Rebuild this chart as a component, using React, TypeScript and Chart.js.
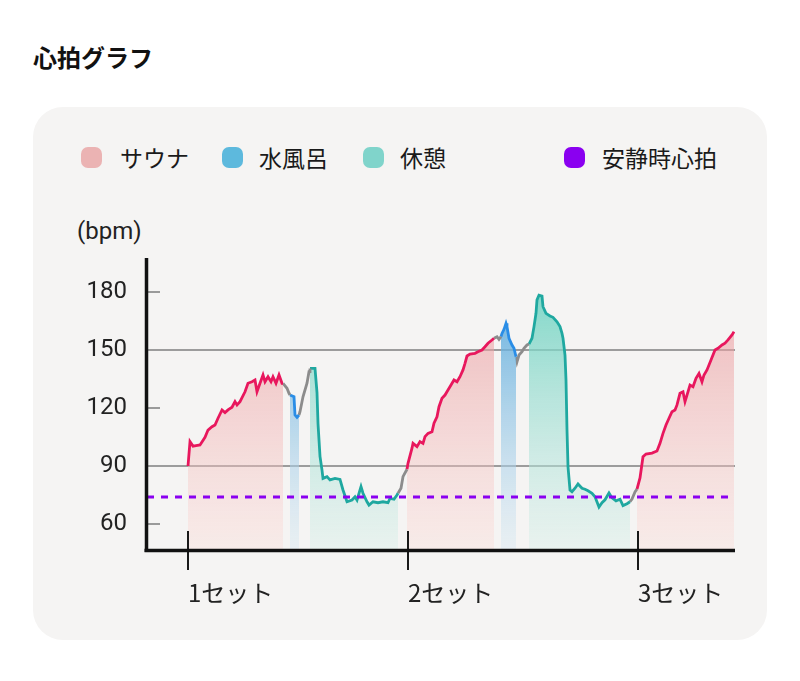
import React, { useEffect, useRef } from "react";
import { Chart, registerables } from "chart.js";

Chart.register(...registerables);

// ---- data: [minutes, bpm] ----
const sauna1: [number, number][] = [
  [0.0, 90.0], [0.2, 102.6], [0.5, 100.3], [0.8, 100.6], [1.2, 100.9], [1.7, 104.8], [2.0, 108.6],
  [2.4, 110.3], [2.7, 111.2], [3.0, 114.7], [3.4, 119.0], [3.7, 117.6], [4.0, 119.0], [4.4, 120.4],
  [4.7, 123.3], [4.9, 121.6], [5.2, 123.3], [5.7, 128.4], [6.0, 132.8], [6.4, 133.6], [6.7, 134.5],
  [6.9, 128.4], [7.2, 132.8], [7.5, 137.1], [7.7, 133.6], [8.0, 136.2], [8.3, 133.6], [8.5, 136.2],
  [8.8, 132.8], [9.1, 137.1], [9.4, 132.8], [9.5, 132.8],
];
const trans1a: [number, number][] = [[9.5, 132.8], [9.9, 130.2], [10.1, 127.6], [10.2, 126.7]];
const water1: [number, number][] = [[10.2, 126.7], [10.6, 125.8], [10.7, 116.4], [10.9, 115.2], [11.1, 116.4]];
const trans1b: [number, number][] = [[11.1, 116.4], [11.2, 118.1], [11.5, 125.8], [11.9, 132.8], [12.1, 138.8], [12.2, 140.5]];
const rest1: [number, number][] = [
  [12.2, 140.5], [12.7, 140.5], [12.9, 128.0], [13.0, 112.0], [13.2, 95.0], [13.4, 87.9], [13.5, 83.6],
  [13.9, 84.5], [14.2, 82.8], [14.7, 83.6], [15.2, 83.1], [15.5, 77.6], [15.9, 71.5], [16.4, 72.4],
  [16.7, 74.1], [16.9, 72.4], [17.3, 79.3], [17.5, 75.9], [17.9, 71.5], [18.1, 69.8], [18.5, 71.5],
  [19.0, 71.0], [19.5, 71.5], [20.0, 71.0], [20.2, 73.3], [20.6, 72.8], [20.9, 75.0], [21.0, 75.9],
];
const trans2a: [number, number][] = [[21.0, 75.9], [21.3, 78.5], [21.5, 84.5], [21.9, 88.3]];
const sauna2: [number, number][] = [
  [21.9, 88.3], [22.0, 91.4], [22.4, 99.2], [22.5, 101.7], [22.9, 100.0], [23.2, 102.6], [23.5, 101.7],
  [23.7, 105.2], [24.0, 106.9], [24.4, 107.7], [24.6, 112.1], [24.9, 115.5], [25.1, 120.7], [25.4, 125.0],
  [25.7, 126.7], [26.0, 129.3], [26.3, 131.9], [26.6, 134.5], [26.9, 133.6], [27.2, 136.2], [27.5, 139.7],
  [27.7, 143.1], [27.9, 146.9], [28.2, 147.9], [28.7, 148.3], [29.0, 149.1], [29.4, 150.0], [29.7, 151.7],
  [30.0, 153.5], [30.4, 155.2], [30.6, 156.1],
];
const trans2b: [number, number][] = [[30.6, 156.1], [30.9, 156.9], [31.1, 155.5], [31.3, 156.9]];
const water2: [number, number][] = [
  [31.3, 156.9], [31.4, 158.6], [31.6, 160.7], [31.8, 163.8], [31.9, 162.1], [32.1, 156.1], [32.4, 152.6],
  [32.6, 150.9], [32.8, 146.5],
];
const trans2c: [number, number][] = [[32.8, 146.5], [32.9, 143.9], [33.1, 147.4], [33.4, 149.1], [33.6, 150.9], [33.9, 152.6], [34.1, 153.1]];
const rest2: [number, number][] = [
  [34.1, 153.1], [34.4, 156.1], [34.6, 162.1], [34.8, 169.0], [34.9, 175.9], [35.1, 178.4], [35.4, 177.9],
  [35.5, 172.4], [35.8, 169.0], [36.2, 167.6], [36.5, 166.9], [36.9, 164.6], [37.2, 162.1], [37.4, 158.6],
  [37.5, 156.1], [37.7, 147.4], [37.8, 134.5], [37.9, 108.6], [38.0, 89.6], [38.2, 77.6], [38.4, 76.7],
  [38.7, 78.5], [39.0, 80.7], [39.4, 78.5], [39.7, 78.0], [40.0, 77.2], [40.4, 75.9], [40.7, 74.1],
  [41.1, 68.8], [41.4, 71.0], [41.7, 72.5], [42.1, 76.0], [42.4, 73.5], [42.8, 72.0], [43.2, 72.8],
  [43.5, 69.5], [43.9, 70.5], [44.2, 71.5],
];
const trans2d: [number, number][] = [[44.2, 71.5], [44.4, 72.9], [44.7, 76.6], [44.9, 78.1]];
const sauna3: [number, number][] = [
  [44.9, 78.1], [45.2, 83.8], [45.5, 94.8], [45.8, 96.2], [46.4, 96.7], [46.9, 97.8], [47.2, 101.7],
  [47.5, 106.9], [47.8, 111.2], [48.1, 114.7], [48.4, 118.1], [48.7, 119.0], [48.9, 121.6], [49.2, 127.6],
  [49.5, 128.4], [49.7, 123.3], [49.9, 126.7], [50.2, 131.9], [50.5, 131.0], [50.8, 135.4], [51.1, 137.9],
  [51.4, 133.6], [51.6, 137.1], [51.9, 139.7], [52.3, 144.8], [52.7, 150.0], [53.0, 150.9], [53.4, 152.6],
  [53.7, 153.5], [54.0, 155.2], [54.4, 157.8], [54.6, 159.5],
];

const restingBpm = 74;
const xRange: [number, number] = [-4.1, 54.7];
const yRange: [number, number] = [46.55, 197.6];
const yTicks = [60, 90, 120, 150, 180];
const yGridValues = [90, 150];
const yShortTicks = [60, 120, 180];
const setTicks = [0, 22, 45];
const setLabels = ["1セット", "2セット", "3セット"];
const legendItems = [
  { label: "サウナ", color: "#ebb3b3", x: 81, tx: 120 },
  { label: "水風呂", color: "#5db9dd", x: 222, tx: 259 },
  { label: "休憩", color: "#80d4cb", x: 363, tx: 400 },
  { label: "安静時心拍", color: "#8a00f0", x: 564, tx: 602 },
];

const FONT = "Roboto, 'Noto Sans CJK JP', sans-serif";
const JP = "'Noto Sans CJK JP', Roboto, sans-serif";

const SAUNA = "#e8175d";
const WATER = "#2a8de6";
const REST = "#1fa8a0";
const GRAY = "#8c8c8c";

function gradient(top: string, bottom: string) {
  return (ctx: any) => {
    const chart = ctx.chart;
    const a = chart.chartArea;
    if (!a) return top;
    const g = chart.ctx.createLinearGradient(0, a.top, 0, a.bottom);
    g.addColorStop(0, top);
    g.addColorStop(1, bottom);
    return g;
  };
}

const saunaFill = gradient("rgba(230,135,140,0.66)", "rgba(252,218,214,0.35)");
const waterFill = gradient("rgba(60,155,215,0.95)", "rgba(215,232,242,0.4)");
const restFill = gradient("rgba(90,205,186,0.88)", "rgba(215,238,232,0.4)");

function seg(pts: [number, number][], color: string, fill: any) {
  return {
    data: pts.map(([x, y]) => ({ x, y })),
    borderColor: color,
    borderWidth: 2.8,
    pointRadius: 0,
    tension: 0,
    fill: fill ? "start" : false,
    backgroundColor: fill || "transparent",
  };
}

const decor = {
  id: "decor",
  afterDatasetsDraw(chart: any) {
    const { ctx, chartArea: a, scales } = chart;
    const xs = scales.x;
    const ys = scales.y;
    ctx.save();
    ctx.strokeStyle = "#9a9a9a";
    ctx.lineWidth = 2;
    for (const v of yShortTicks) {
      const py = Math.round(ys.getPixelForValue(v));
      ctx.beginPath();
      ctx.moveTo(a.left, py);
      ctx.lineTo(a.left + 13, py);
      ctx.stroke();
    }
    ctx.strokeStyle = "#1a1a1a";
    ctx.lineWidth = 2;
    for (const v of setTicks) {
      const px = Math.round(xs.getPixelForValue(v));
      ctx.beginPath();
      ctx.moveTo(px, a.bottom - 19);
      ctx.lineTo(px, a.bottom + 20);
      ctx.stroke();
    }
    ctx.strokeStyle = "#111";
    ctx.lineWidth = 3.5;
    ctx.beginPath();
    ctx.moveTo(a.left - 0.5, a.top);
    ctx.lineTo(a.left - 0.5, a.bottom + 2);
    ctx.stroke();
    ctx.beginPath();
    ctx.moveTo(a.left - 2.5, a.bottom + 0.5);
    ctx.lineTo(a.right, a.bottom + 0.5);
    ctx.stroke();
    ctx.restore();
  },
};

export default function App() {
  const ref = useRef<HTMLCanvasElement>(null);
  useEffect(() => {
    if (!ref.current) return;
    const chart = new Chart(ref.current, {
      type: "line",
      data: {
        datasets: [
          {
            data: [
              { x: xRange[0], y: restingBpm },
              { x: xRange[1], y: restingBpm },
            ],
            borderColor: "#8a00f0",
            borderWidth: 3,
            borderDash: [7, 7],
            pointRadius: 0,
            fill: false,
          } as any,
          seg(sauna1, SAUNA, saunaFill),
          seg(trans1a, GRAY, null),
          seg(water1, WATER, waterFill),
          seg(trans1b, GRAY, null),
          seg(rest1, REST, restFill),
          seg(trans2a, GRAY, null),
          seg(sauna2, SAUNA, saunaFill),
          seg(trans2b, GRAY, null),
          seg(water2, WATER, waterFill),
          seg(trans2c, GRAY, null),
          seg(rest2, REST, restFill),
          seg(trans2d, GRAY, null),
          seg(sauna3, SAUNA, saunaFill),
        ],
      },
      options: {
        responsive: false,
        animation: false,
        devicePixelRatio: 1,
        layout: { padding: { left: 0, right: 65, top: 258, bottom: 71 } },
        plugins: { legend: { display: false }, tooltip: { enabled: false } },
        scales: {
          x: {
            type: "linear",
            min: xRange[0],
            max: xRange[1],
            afterBuildTicks: (s: any) => {
              s.ticks = setTicks.map((v) => ({ value: v }));
            },
            afterFit: (s: any) => {
              s.height = 60;
            },
            grid: { display: false, drawTicks: false },
            border: { display: false },
            ticks: {
              autoSkip: false,
              maxRotation: 0,
              align: "start",
              padding: 28,
              color: "#222",
              font: { family: JP, size: 24 },
              callback: (v: any) => setLabels[setTicks.indexOf(Number(v))] ?? "",
            },
          },
          y: {
            type: "linear",
            min: yRange[0],
            max: yRange[1],
            afterBuildTicks: (s: any) => {
              s.ticks = yTicks.map((v) => ({ value: v }));
            },
            afterFit: (s: any) => {
              s.width = 147;
            },
            grid: {
              drawTicks: false,
              lineWidth: 2,
              color: (c: any) => (yGridValues.includes(c.tick?.value) ? "#9c9c9c" : "transparent"),
            },
            border: { display: false },
            ticks: {
              padding: 20,
              color: "#222",
              font: { family: FONT, size: 24 },
            },
          },
        },
      } as any,
      plugins: [decor],
    });
    return () => chart.destroy();
  }, []);

  return (
    <div style={{ position: "fixed", left: 0, top: 0, width: 800, height: 681, background: "#fff", overflow: "hidden" }}>
      <div
        style={{
          position: "absolute",
          left: 33,
          top: 41,
          fontFamily: JP,
          fontWeight: 700,
          fontSize: 24,
          lineHeight: "32px",
          color: "#111",
        }}
      >
        心拍グラフ
      </div>
      <div
        style={{
          position: "absolute",
          left: 33,
          top: 107,
          width: 734,
          height: 533,
          background: "#f5f4f3",
          borderRadius: 30,
        }}
      />
      {legendItems.map((it) => (
        <React.Fragment key={it.label}>
          <div
            style={{
              position: "absolute",
              left: it.x,
              top: 147,
              width: 21,
              height: 21,
              borderRadius: 7,
              background: it.color,
            }}
          />
          <div
            style={{
              position: "absolute",
              left: it.tx,
              top: 141,
              fontFamily: JP,
              fontSize: 23,
              lineHeight: "32px",
              color: "#1a1a1a",
              whiteSpace: "nowrap",
            }}
          >
            {it.label}
          </div>
        </React.Fragment>
      ))}
      <div
        style={{
          position: "absolute",
          left: 77,
          top: 215,
          fontFamily: FONT,
          fontSize: 24,
          lineHeight: "32px",
          color: "#222",
        }}
      >
        (bpm)
      </div>
      <canvas ref={ref} width={800} height={681} style={{ position: "absolute", left: 0, top: 0, width: 800, height: 681 }} />
    </div>
  );
}
